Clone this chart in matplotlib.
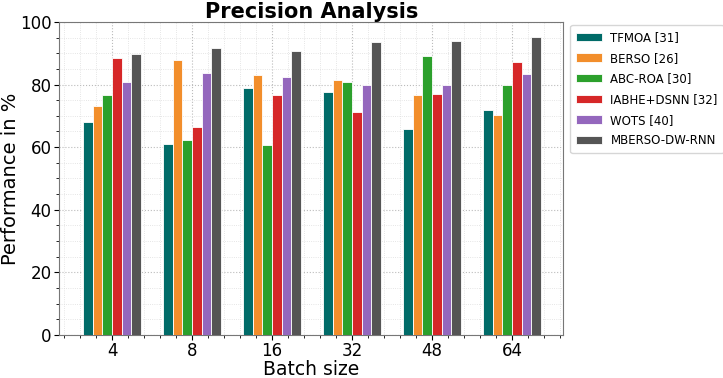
import numpy as np
import matplotlib
matplotlib.use("Agg")
import matplotlib.pyplot as plt
from matplotlib.ticker import AutoMinorLocator

batch_sizes = ["4", "8", "16", "32", "48", "64"]
methods = ["TFMOA [31]", "BERSO [26]", "ABC-ROA [30]", "IABHE+DSNN [32]", "WOTS [40]", "MBERSO-DW-RNN"]

tfmoa = [68.0, 61.0, 78.9, 77.7, 65.9, 72.0]
berso = [73.1, 87.9, 83.1, 81.6, 76.6, 70.2]
abc_roa = [76.8, 62.4, 60.7, 80.9, 89.0, 80.0]
iabhe_dsnn = [88.6, 66.5, 76.6, 71.1, 76.9, 87.3]
wots = [80.7, 83.8, 82.4, 79.7, 79.8, 83.4]
mberso = [89.9, 91.8, 90.8, 93.6, 93.8, 95.1]

colors = ["#006b68", "#f28e2b", "#2ca02c", "#d62728", "#9467bd", "#555555"]


def main():
    series = [tfmoa, berso, abc_roa, iabhe_dsnn, wots, mberso]
    x = np.arange(len(batch_sizes))
    width = 0.12

    fig = plt.figure(figsize=(7.23, 3.78), dpi=100)
    ax = fig.add_axes([0.082, 0.114, 0.697, 0.828])

    for i, (vals, name) in enumerate(zip(series, methods)):
        offset = (i - 2.5) * width
        ax.bar(x + offset, vals, width, color=colors[i], label=name,
               edgecolor="white", linewidth=0.6, zorder=3)

    ax.set_xticks(x)
    ax.set_xticklabels(batch_sizes, fontsize=12)
    ax.set_xlim(-0.66, 5.64)
    ax.set_ylim(0, 100)
    ax.tick_params(axis="y", labelsize=12, pad=2)
    ax.tick_params(axis="x", pad=1.5)
    ax.xaxis.set_minor_locator(AutoMinorLocator(5))
    ax.yaxis.set_minor_locator(AutoMinorLocator(4))
    ax.grid(which="major", linestyle=":", color="#bbbbbb", linewidth=0.8, zorder=0)
    ax.grid(which="minor", linestyle=":", color="#dddddd", linewidth=0.6, zorder=0)
    for s in ax.spines.values():
        s.set_color("#777777")

    ax.set_title("Precision Analysis", fontsize=15, fontweight="bold", pad=3)
    ax.set_xlabel("Batch size", fontsize=13.5, labelpad=0)
    ax.set_ylabel("Performance in %", fontsize=14, labelpad=0)

    ax.legend(loc="upper left", bbox_to_anchor=(1.014, 0.99), fontsize=8.5,
              handlelength=2.2, handletextpad=0.7, labelspacing=0.65,
              borderaxespad=0.0, borderpad=0.5)

    fig.savefig("out.png", dpi=100)


if __name__ == "__main__":
    main()
